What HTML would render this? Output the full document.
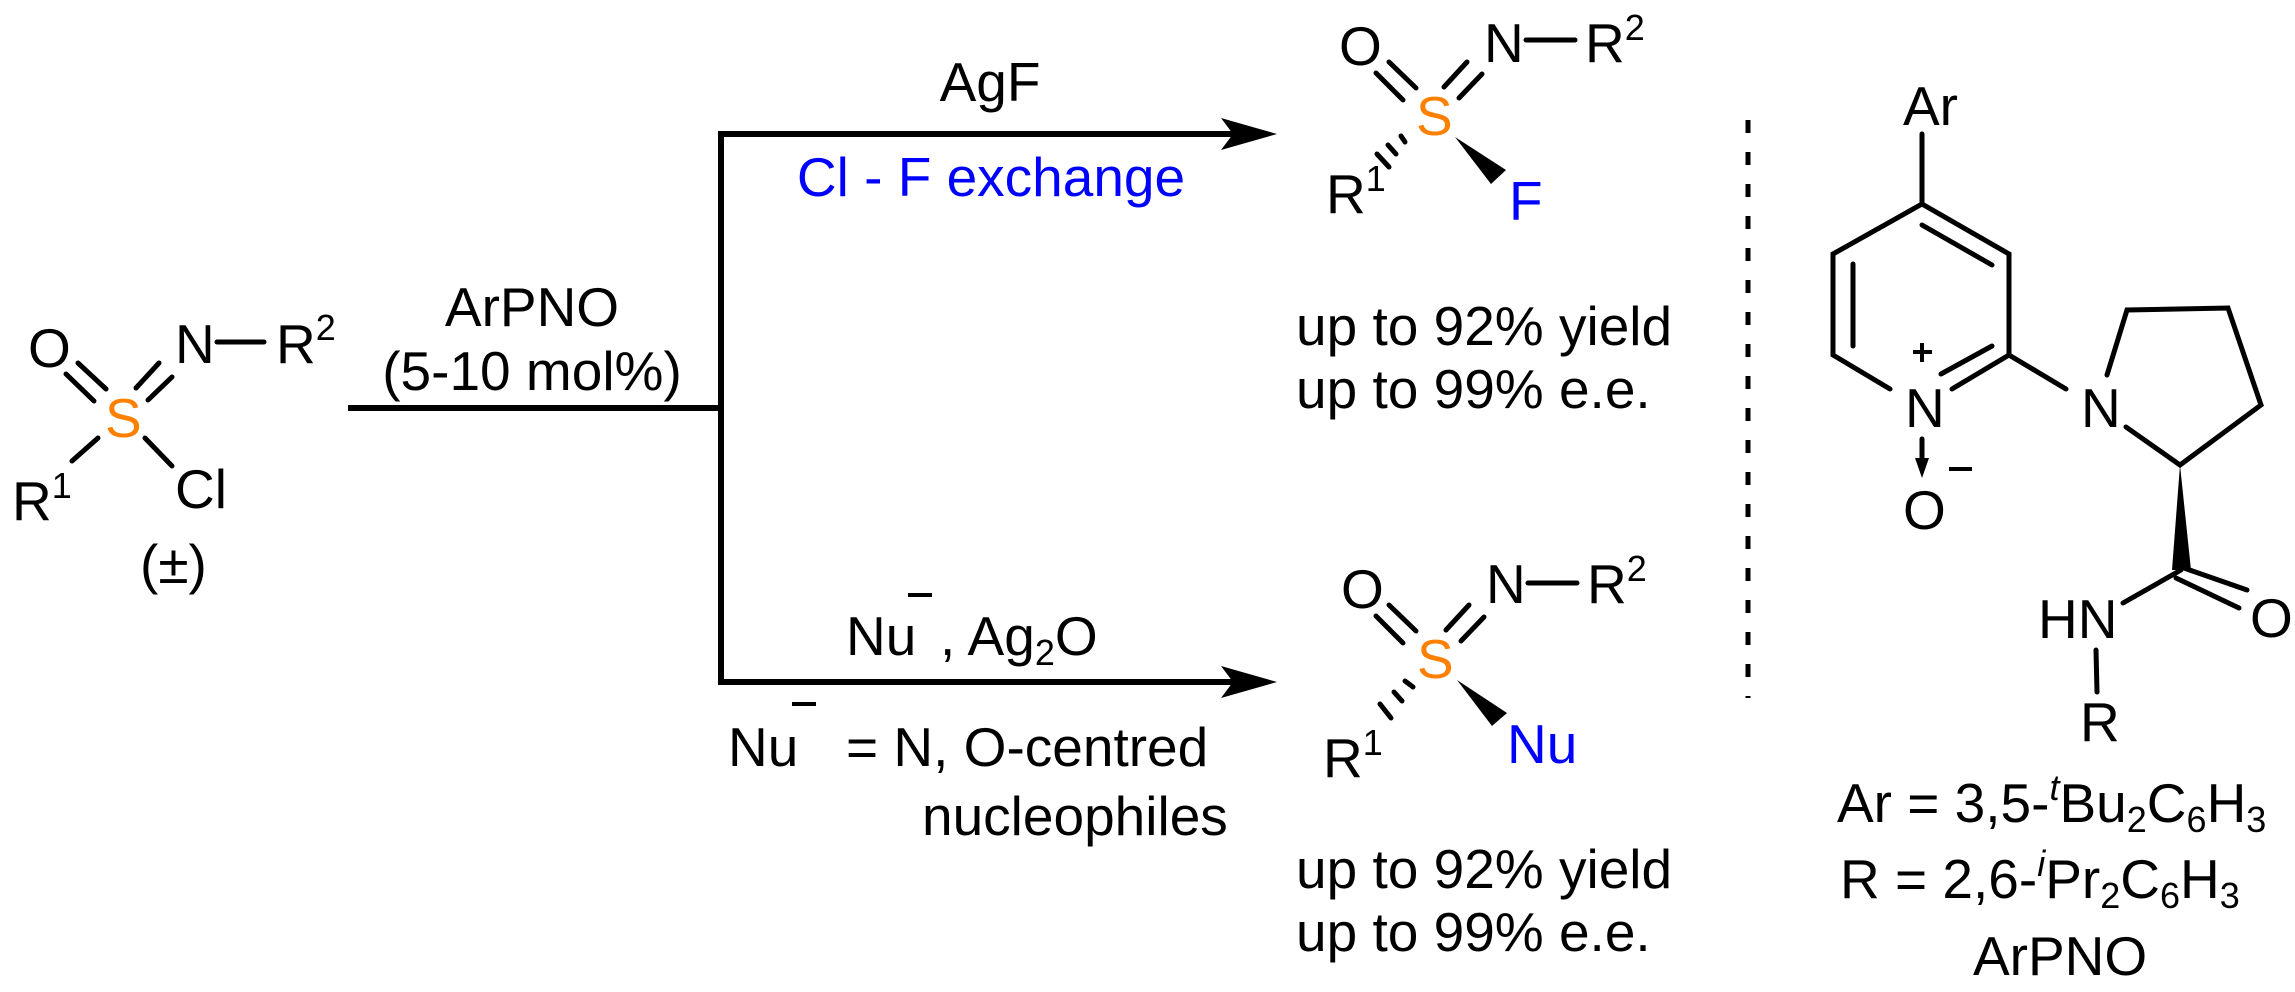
<!DOCTYPE html>
<html><head><meta charset="utf-8"><style>
html,body{margin:0;padding:0;background:#fff;}
svg{display:block;}
text{font-family:"Liberation Sans",Arial,sans-serif;font-size:55px;fill:#000;}
.s{font-size:36px;}
.or{fill:#FF8000;}
.bl{fill:#0000FF;}
</style></head><body>
<svg width="2295" height="992" viewBox="0 0 2295 992" xmlns="http://www.w3.org/2000/svg">
<g stroke="#000" stroke-width="5" stroke-linecap="round" fill="none">
<!-- left molecule bonds -->
<line x1="78" y1="363" x2="106" y2="389"/>
<line x1="66" y1="374" x2="94" y2="401"/>
<line x1="136" y1="388" x2="159" y2="363"/>
<line x1="148" y1="400" x2="172" y2="377"/>
<line x1="217" y1="342" x2="264" y2="342"/>
<line x1="98" y1="438" x2="72" y2="461"/>
<line x1="145" y1="438" x2="172" y2="466"/>
<!-- top product -->
<line x1="1389" y1="62" x2="1416" y2="88"/>
<line x1="1376" y1="73" x2="1403" y2="100"/>
<line x1="1444" y1="87" x2="1467" y2="62"/>
<line x1="1459" y1="98" x2="1482" y2="74"/>
<line x1="1526" y1="40" x2="1575" y2="40"/>
<line x1="1401" y1="136" x2="1405" y2="142"/>
<line x1="1388" y1="145" x2="1396" y2="154"/>
<line x1="1377" y1="154" x2="1389" y2="167"/>
<!-- bottom product -->
<line x1="1389" y1="605" x2="1416" y2="631"/>
<line x1="1376" y1="616" x2="1403" y2="643"/>
<line x1="1446" y1="630" x2="1469" y2="605"/>
<line x1="1461" y1="641" x2="1484" y2="617"/>
<line x1="1528" y1="583" x2="1577" y2="583"/>
<line x1="1405" y1="681" x2="1413" y2="687"/>
<line x1="1394" y1="692" x2="1402" y2="701"/>
<line x1="1380" y1="704" x2="1391" y2="718"/>
<!-- ArPNO molecule -->
<line x1="1922" y1="134" x2="1922" y2="204"/>
<polyline points="1890,389 1833,355 1833,254 1922,204 2009,254 2009,355 1952,389"/>
<line x1="1922" y1="225" x2="1992" y2="265"/>
<line x1="1853" y1="264" x2="1853" y2="346"/>
<line x1="1941" y1="374" x2="1992" y2="346"/>
<line x1="1922" y1="439" x2="1922" y2="462"/>
<line x1="2009" y1="355" x2="2066" y2="389"/>
<polyline points="2107,375 2127,310 2228,308 2261,405 2180,465 2126,427"/>
<line x1="2181" y1="570" x2="2123" y2="603"/>
<line x1="2181" y1="567" x2="2247" y2="590"/>
<line x1="2176" y1="578" x2="2239" y2="608"/>
<line x1="2096" y1="650" x2="2097" y2="692"/>
<line x1="1748" y1="120" x2="1748" y2="698" stroke-dasharray="13 19" stroke-linecap="butt"/>
</g>
<!-- arrows -->
<g stroke="#000" stroke-width="6" fill="none">
<line x1="348" y1="408" x2="724" y2="408"/>
<line x1="721" y1="131" x2="721" y2="685"/>
<line x1="718" y1="134" x2="1250" y2="134"/>
<line x1="718" y1="682" x2="1250" y2="682"/>
</g>
<g fill="#000">
<polygon points="1277,134 1221,118 1233,134 1221,150"/>
<polygon points="1277,682 1221,666 1233,682 1221,698"/>
<!-- wedges -->
<polygon points="1455,137 1491,184 1506,170"/>
<polygon points="1457,680 1492,726 1507,713"/>
<polygon points="2180,465 2172,570 2191,570"/>
<polygon points="1922,478 1915,458 1929,458"/>
<rect x="1949" y="467" width="23" height="4"/>
<rect x="1913" y="350" width="19" height="4"/>
<rect x="1920" y="343" width="4" height="19"/>
</g>
<!-- left molecule text -->
<text x="28" y="367">O</text>
<text x="175" y="363">N</text>
<text x="276" y="363">R<tspan class="s" dy="-23">2</tspan></text>
<text x="105" y="437" class="or">S</text>
<text x="12" y="520">R<tspan class="s" dy="-22">1</tspan></text>
<text x="175" y="508">Cl</text>
<text x="140" y="583">(±)</text>
<!-- conditions -->
<text x="532" y="326" text-anchor="middle">ArPNO</text>
<text x="532" y="390" text-anchor="middle">(5-10 mol%)</text>
<text x="990" y="101" text-anchor="middle">AgF</text>
<text x="991" y="196" text-anchor="middle" class="bl">Cl - F exchange</text>
<text x="846" y="655">Nu</text>
<rect x="908" y="593" width="24" height="4"/>
<text x="940" y="655">, Ag<tspan class="s" dy="10">2</tspan><tspan dy="-10">O</tspan></text>
<text x="728" y="766">Nu</text>
<rect x="792" y="702" width="24" height="4"/>
<text x="846" y="766">= N, O-centred</text>
<text x="922" y="835">nucleophiles</text>
<!-- top product -->
<text x="1339" y="65">O</text>
<text x="1484" y="62">N</text>
<text x="1585" y="62">R<tspan class="s" dy="-22">2</tspan></text>
<text x="1416" y="135" class="or">S</text>
<text x="1326" y="213">R<tspan class="s" dy="-22">1</tspan></text>
<text x="1509" y="220" class="bl">F</text>
<text x="1296" y="345">up to 92% yield</text>
<text x="1296" y="408">up to 99% e.e.</text>
<!-- bottom product -->
<text x="1341" y="608">O</text>
<text x="1486" y="603">N</text>
<text x="1587" y="603">R<tspan class="s" dy="-22">2</tspan></text>
<text x="1417" y="678" class="or">S</text>
<text x="1323" y="777">R<tspan class="s" dy="-22">1</tspan></text>
<text x="1507" y="763" class="bl">Nu</text>
<text x="1296" y="888">up to 92% yield</text>
<text x="1296" y="951">up to 99% e.e.</text>
<!-- ArPNO text -->
<text x="1903" y="125">Ar</text>
<text x="1905" y="427">N</text>
<text x="1903" y="529">O</text>
<text x="2081" y="427">N</text>
<text x="2038" y="638">HN</text>
<text x="2250" y="637">O</text>
<text x="2080" y="741">R</text>
<text x="1837" y="822">Ar = 3,5-<tspan class="s" dy="-22" font-style="italic">t</tspan><tspan dy="22">Bu</tspan><tspan class="s" dy="10">2</tspan><tspan dy="-10">C</tspan><tspan class="s" dy="10">6</tspan><tspan dy="-10">H</tspan><tspan class="s" dy="10">3</tspan></text>
<text x="1840" y="898">R = 2,6-<tspan class="s" dy="-22" font-style="italic">i</tspan><tspan dy="22">Pr</tspan><tspan class="s" dy="10">2</tspan><tspan dy="-10">C</tspan><tspan class="s" dy="10">6</tspan><tspan dy="-10">H</tspan><tspan class="s" dy="10">3</tspan></text>
<text x="1973" y="975">ArPNO</text>
</svg>
</body></html>
